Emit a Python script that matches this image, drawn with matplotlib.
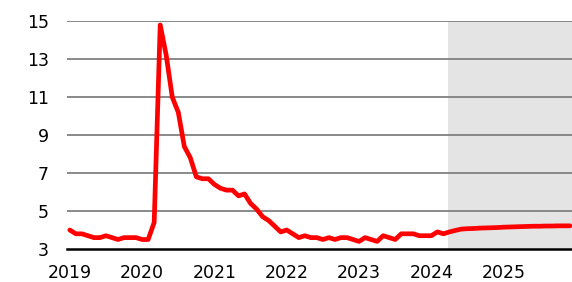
import numpy as np
import matplotlib.pyplot as plt

# monthly unemployment rate, Jan 2019 - Mar 2024 (actual)
actual = [
    4.0, 3.8, 3.8, 3.7, 3.6, 3.6, 3.7, 3.6, 3.5, 3.6, 3.6, 3.6,   # 2019
    3.5, 3.5, 4.4, 14.8, 13.2, 11.0, 10.2, 8.4, 7.8, 6.8, 6.7, 6.7,  # 2020
    6.4, 6.2, 6.1, 6.1, 5.8, 5.9, 5.4, 5.1, 4.7, 4.5, 4.2, 3.9,   # 2021
    4.0, 3.8, 3.6, 3.7, 3.6, 3.6, 3.5, 3.6, 3.5, 3.6, 3.6, 3.5,   # 2022
    3.4, 3.6, 3.5, 3.4, 3.7, 3.6, 3.5, 3.8, 3.8, 3.8, 3.7, 3.7,   # 2023
    3.7, 3.9, 3.8,                                                # 2024 Q1
]
# forecast, Apr 2024 - Dec 2025
forecast = [
    3.9, 3.98, 4.05, 4.07, 4.08, 4.1, 4.11, 4.12, 4.13,
    4.15, 4.16, 4.17, 4.18, 4.19, 4.2, 4.2, 4.21, 4.21, 4.22, 4.22, 4.22,
]
years = [2019, 2020, 2021, 2022, 2023, 2024, 2025]
yticks = [3, 5, 7, 9, 11, 13, 15]
forecast_start = 2024.23

values = actual + forecast
x = 2019 + np.arange(len(values)) / 12

fig = plt.figure(figsize=(5.72, 2.82), dpi=100)
ax = fig.add_axes([0.117, 0.117, 0.883, 0.808])

ax.axvspan(forecast_start, 2026, color='#e4e4e4', lw=0, zorder=0)
for y in yticks[1:]:
    ax.axhline(y, color='#808080', lw=1.3, zorder=1)

ax.plot(x, values, color='#ff0000', lw=3.4, solid_joinstyle='round',
        solid_capstyle='round', zorder=3)

ax.set_xlim(2018.96, 2025.945)
ax.set_ylim(3, 15)
ax.set_xticks(years)
ax.set_yticks(yticks)
ax.tick_params(length=0, labelsize=12.5)
ax.tick_params(axis='y', pad=13)
ax.tick_params(axis='x', pad=11)

for s in ['top', 'right', 'left']:
    ax.spines[s].set_visible(False)
ax.spines['bottom'].set_color('black')
ax.spines['bottom'].set_linewidth(1.8)
ax.spines['bottom'].set_zorder(4)

fig.savefig('out.png', dpi=100)
